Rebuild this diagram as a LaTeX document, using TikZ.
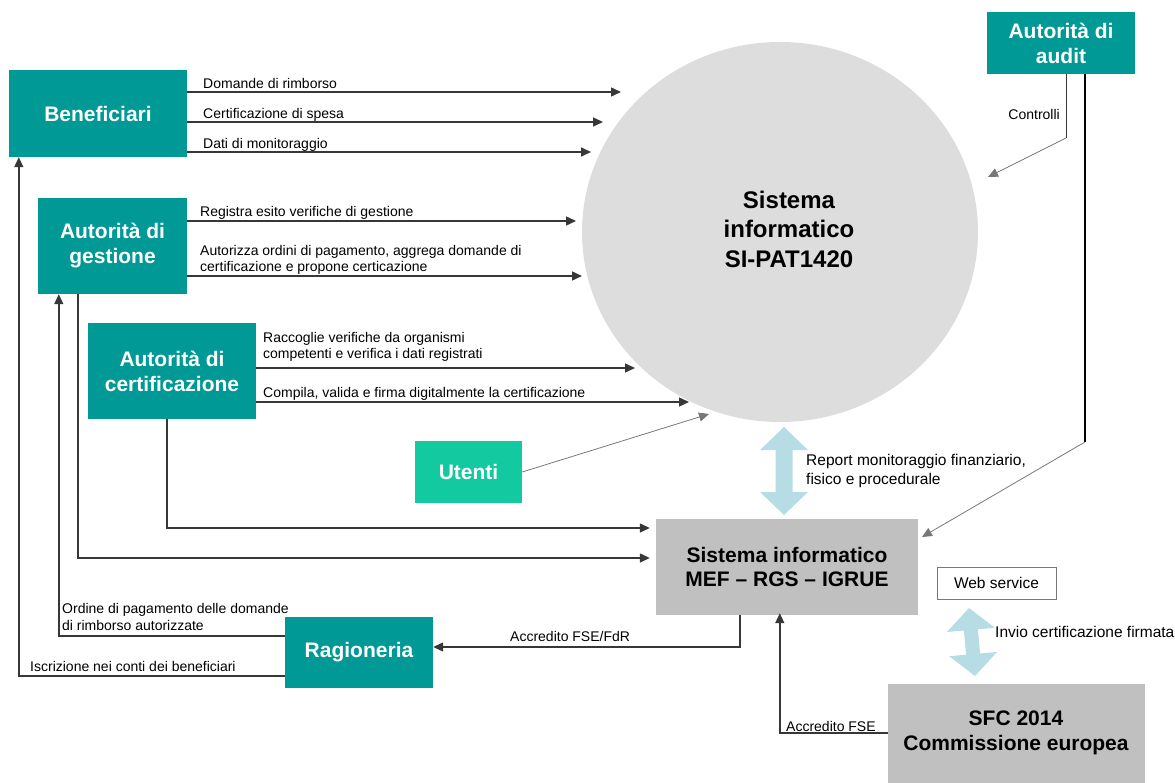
\documentclass[tikz,border=0pt]{standalone}
\usepackage{fontspec}
\setmainfont{Liberation Sans}
\usetikzlibrary{arrows.meta,shapes.geometric,calc}
\definecolor{tealbox}{RGB}{0,153,150}
\definecolor{utebox}{RGB}{18,201,160}
\definecolor{circfill}{RGB}{221,221,221}
\definecolor{graybox}{RGB}{192,192,192}
\definecolor{linec}{RGB}{55,55,55}
\definecolor{thinc}{RGB}{120,120,120}
\definecolor{lblue}{RGB}{182,221,227}
\begin{document}
\begin{tikzpicture}[x=1pt,y=-1pt,
  box/.style={rectangle, fill=tealbox, text=white, font=\fontsize{21}{25}\selectfont\bfseries, align=center, inner sep=0pt},
  gbox/.style={rectangle, fill=graybox, text=black, font=\fontsize{21}{24}\selectfont\bfseries, align=center, inner sep=0pt},
  conn/.style={draw=linec, line width=1.4pt, -{Triangle[length=10pt,width=9pt]}},
  thinconn/.style={draw=thinc, line width=0.8pt, -{Triangle[length=10pt,width=9pt]}},
  plain/.style={draw=linec, line width=1.3pt},
  lbl/.style={font=\fontsize{14}{16}\selectfont, text=black, inner sep=0pt, align=left},
  mlbl/.style={font=\fontsize{15.5}{19}\selectfont, text=black, inner sep=0pt, align=left},
  dbl/.style={fill=lblue, draw=none}
]
\useasboundingbox (0,0) rectangle (1175,783);

% central system
\node[ellipse, fill=circfill, minimum width=396pt, minimum height=380pt, inner sep=0pt] (si) at (780,232) {};
\node[font=\fontsize{24}{29.5}\selectfont\bfseries, align=center, inner sep=0pt] (sitxt) at (789,229) {Sistema\\informatico\\SI-PAT1420};

% boxes
\node[box, minimum width=178pt, minimum height=87pt] (ben) at (98,113.5) {Beneficiari};
\node[box, minimum width=149pt, minimum height=96pt] (ges) at (112.5,246) {Autorità di\\gestione};
\node[box, minimum width=168pt, minimum height=96pt] (cer) at (172,371) {Autorità di\\certificazione};
\node[box, fill=utebox, minimum width=107pt, minimum height=62pt] (ute) at (468.5,472) {Utenti};
\node[box, minimum width=148pt, minimum height=62pt] (aud) at (1061,43) {Autorità di\\audit};
\node[box, minimum width=148pt, minimum height=71pt] (rag) at (359,652.5) {Ragioneria};
\node[gbox, minimum width=262pt, minimum height=96pt] (mef) at (787,567) {Sistema informatico\\MEF -- RGS -- IGRUE};
\node[gbox, minimum width=257pt, minimum height=104pt, text depth=0pt] (sfc) at (1016.5,736) {};
\node[font=\fontsize{21}{25}\selectfont\bfseries, align=center, inner sep=0pt] (sfctxt) at (1016,733) {SFC 2014\\Commissione europea};
\node[draw=thinc, line width=0.8pt, fill=white, minimum width=119pt, minimum height=32pt, inner sep=0pt, font=\fontsize{15.5}{19}\selectfont] (ws) at (996.5,583) {Web service};

% Beneficiari -> SI
\coordinate (t1) at (621,92);
\coordinate (t2) at (603,122);
\coordinate (t3) at (591,152);
\draw[conn] (ben.east |- t1) -- (t1);
\draw[conn] (ben.east |- t2) -- (t2);
\draw[conn] (ben.east |- t3) -- (t3);
\node[lbl, anchor=base west] (l1) at (203,89) {Domande di rimborso};
\node[lbl, anchor=base west] (l2) at (203,119) {Certificazione di spesa};
\node[lbl, anchor=base west] (l3) at (203,149) {Dati di monitoraggio};

% Gestione -> SI
\coordinate (t4) at (576,221);
\coordinate (t5) at (582,276);
\draw[conn] (ges.east |- t4) -- (t4);
\draw[conn] (ges.east |- t5) -- (t5);
\node[lbl, anchor=base west] (l4) at (200,217) {Registra esito verifiche di gestione};
\node[lbl, anchor=base west] (l5) at (200,256) {Autorizza ordini di pagamento, aggrega domande di};
\node[lbl, anchor=base west] (l5b) at (200,272) {certificazione e propone certicazione};

% Certificazione -> SI
\coordinate (t6) at (635,368);
\coordinate (t7) at (689,402);
\draw[conn] (cer.east |- t6) -- (t6);
\draw[conn] (cer.east |- t7) -- (t7);
\node[lbl, anchor=base west] (l6) at (263,343) {Raccoglie verifiche da organismi};
\node[lbl, anchor=base west] (l6b) at (263,359) {competenti e verifica i dati registrati};
\node[lbl, anchor=base west] (l7) at (263,397) {Compila, valida e firma digitalmente la certificazione};

% Utenti -> SI
\coordinate (t8) at (709,414);
\draw[thinconn] (ute.east) -- (t8);

% Audit
\coordinate (a1) at (1066,138);
\coordinate (t9) at (988,177);
\draw[draw=linec, line width=0.9pt] (aud.south -| a1) -- (a1);
\draw[thinconn] (a1) -- (t9);
\node[lbl, anchor=base east] (l9) at (1060,120) {Controlli};
\coordinate (a2) at (1085,442);
\coordinate (t10) at (922,537);
\draw[draw=black, line width=1.3pt] (aud.south -| a2) -- (a2);
\draw[thinconn] (a2) -- (t10);

% SI <-> MEF double arrow
\path[dbl] (784,427) -- (808,450) -- (792.5,450) -- (792.5,492) -- (808,492) -- (784,515) -- (760,492) -- (775.5,492) -- (775.5,450) -- (760,450) -- cycle;
\node[mlbl, anchor=base west] (l11) at (806,465) {Report monitoraggio finanziario,};
\node[mlbl, anchor=base west] (l11b) at (806,484) {fisico e procedurale};

% Web service <-> SFC double arrow
\path[dbl] (969,608) -- (994.8,627.8) -- (977.9,629.3) -- (980.1,653.5) -- (997.0,652.0) -- (975,676) -- (949.2,656.2) -- (966.1,654.7) -- (963.9,630.5) -- (947.0,632.0) -- cycle;
\node[mlbl, anchor=base west] (l12) at (995,637) {Invio certificazione firmata};

% left column connectors to MEF
\draw[conn, shorten >=6pt] ($(cer.south west)+(79,0)$) |- (mef.west |- 0,528);
\draw[conn, shorten >=6pt] ($(ges.south west)+(40,0)$) |- (mef.west |- 0,558);

% MEF -> Ragioneria
\draw[conn] ($(mef.south west)+(84,0)$) |- ($(rag.east)+(0,-5.5)$);
\node[lbl, anchor=base west] (l13) at (510,641) {Accredito FSE/FdR};

% SFC -> MEF
\draw[conn, shorten >=-2pt] ($(sfc.west)+(0,-3)$) -| ($(mef.south west)+(124,0)$);
\node[lbl, anchor=base west] (l14) at (786,731) {Accredito FSE};

% Ragioneria -> Gestione, Beneficiari
\draw[conn] ($(rag.west)+(0,-16.5)$) -| ($(ges.south west)+(21,0)$);
\node[lbl, anchor=base west] (l15) at (62,613) {Ordine di pagamento delle domande};
\node[lbl, anchor=base west] (l15b) at (62,630) {di rimborso autorizzate};
\draw[conn] ($(rag.west)+(0,23.5)$) -| ($(ben.south west)+(10,0)$);
\node[lbl, anchor=base west] (l16) at (30,671) {Iscrizione nei conti dei beneficiari};
\end{tikzpicture}
\end{document}
